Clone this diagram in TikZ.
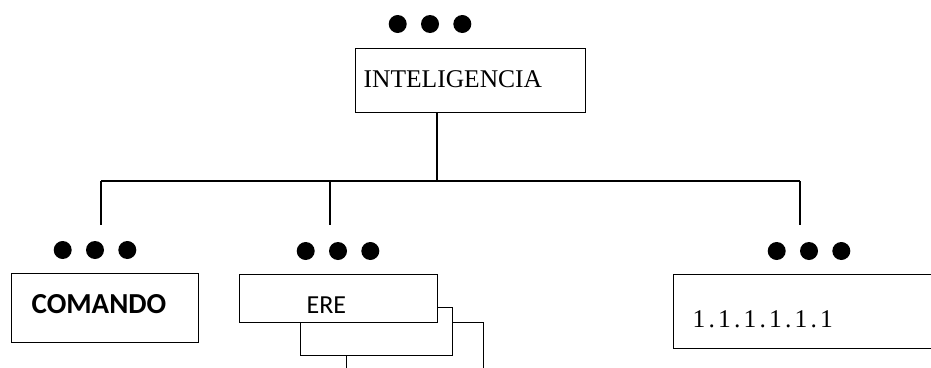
\documentclass[tikz,border=0pt]{standalone}
\usepackage{fontspec}
\setmainfont{Liberation Serif}
\newfontfamily\calibri{Carlito}
\newfontfamily\spacedserif[LetterSpace=12.5]{Liberation Serif}
\usetikzlibrary{positioning}

\begin{document}
\begin{tikzpicture}[x=1pt, y=-1pt, line width=1.3pt,
    box/.style={rectangle, draw, fill=white, anchor=north west, inner ysep=0pt, align=left, text depth=0pt},
    dot/.style={circle, fill, inner sep=0pt, minimum size=18pt},
    serif/.style={font=\fontsize{25.5}{30}\selectfont},
    sans/.style={font=\calibri\fontsize{26}{30}\selectfont}]
    \useasboundingbox (0,0) rectangle (931,367);
    \clip (0,0) rectangle (931,367);

    % Top box
    \node [box, serif, minimum width=230pt, minimum height=64pt, inner xsep=8pt, text width=214pt, text height=14pt] (intel) at (355,48) {INTELIGENCIA};
    \node [dot] (td2) at (430,24) {};
    \node [dot, left=13pt of td2] (td1) {};
    \node [dot, right=13pt of td2] (td3) {};

    % Bus
    \coordinate (busM) at (437,181);
    \coordinate (busL) at (101,181);
    \coordinate (busC) at (330,181);
    \coordinate (busR) at (800,181);
    \coordinate (endL) at (101,225);
    \coordinate (endC) at (330,225);
    \coordinate (endR) at (800,225);

    % Arrows
    \draw (intel.south -| busM) -- (busM);
    \draw (busL) -- (busR);
    \draw (busL) -- (endL);
    \draw (busC) -- (endC);
    \draw (busR) -- (endR);

    % Left box
    \node [box, font=\calibri\bfseries\fontsize{29}{30}\selectfont, minimum width=187pt, minimum height=69pt, inner xsep=20pt, text width=147pt, text height=11pt] (comando) at (11,273) {COMANDO};
    \node [dot] (ld2) at (95,250) {};
    \node [dot, left=13pt of ld2] (ld1) {};
    \node [dot, right=13pt of ld2] (ld3) {};

    % Middle stack
    \node [box, minimum width=137pt, minimum height=70pt] (ere3) at (346,322) {};
    \node [box, minimum width=152pt, minimum height=48pt] (ere2) at (300,307) {};
    \node [box, sans, minimum width=198pt, minimum height=48pt, inner xsep=67pt, text width=64pt, text height=30pt] (ere) at (239,274) {ERE};
    \node [dot] (md2) at (338,251) {};
    \node [dot, left=13pt of md2] (md1) {};
    \node [dot, right=13pt of md2] (md3) {};

    % Right box
    \node [box, font=\spacedserif\fontsize{25.5}{30}\selectfont, minimum width=280pt, minimum height=74pt, inner xsep=19pt, text width=242pt, text height=32pt] (num) at (673,274) {1.1.1.1.1.1};
    \node [dot] (rd2) at (809,251) {};
    \node [dot, left=13pt of rd2] (rd1) {};
    \node [dot, right=13pt of rd2] (rd3) {};
\end{tikzpicture}
\end{document}
